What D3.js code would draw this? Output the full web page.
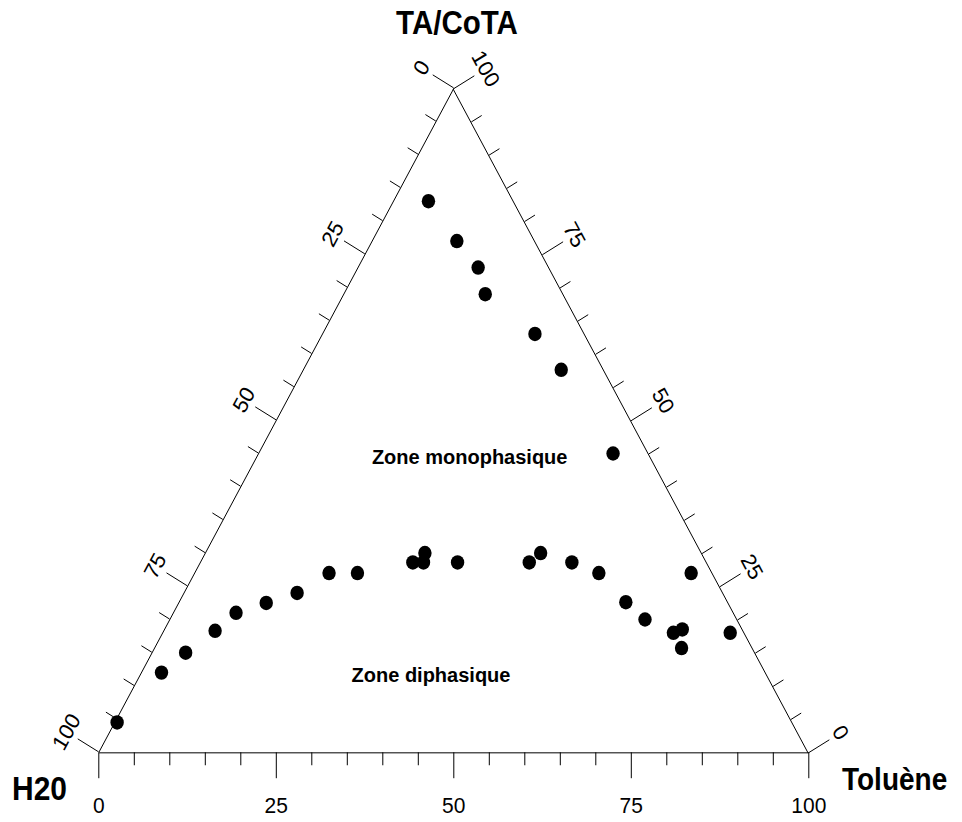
<!DOCTYPE html>
<html>
<head>
<meta charset="utf-8">
<script src="https://cdn.jsdelivr.net/npm/d3@7"></script>
<style>
  html, body { margin: 0; padding: 0; background: #fff; }
  svg { display: block; }
  text { font-family: "Liberation Sans", Arial, Helvetica, sans-serif; fill: #000; }
</style>
</head>
<body>
<svg id="chart" width="962" height="822"></svg>
<script>
// Composition (%) of each measured mixture: toluene, TA/CoTA and water
const toluene = [0.4, 2.9, 4.8, 7.3, 8.9, 12.4, 16, 19, 23, 30, 31.5, 31, 36.3, 46.4, 47.3, 52.4, 57, 63, 67, 72, 73, 74.3, 80, 70, 50, 36.4, 30, 20, 17, 12, 5];
const taCoTA  = [4.5, 12, 15, 18.3, 21, 22.5, 24, 27, 27, 28.6, 28.6, 30, 28.6, 28.6, 30, 28.6, 27, 22.6, 20, 18, 18.5, 15.7, 18, 27, 45, 57.6, 63, 69, 73, 77, 83];
const water   = [95.1, 85.1, 80.2, 74.4, 70.1, 65.1, 60, 54, 50, 41.4, 39.9, 39, 35.1, 25, 22.7, 19, 16, 14.4, 13, 10, 8.5, 10, 2, 3, 5, 6, 7, 11, 10, 11, 12];

// Axis tick values and labels
const majorTicks = [0, 25, 50, 75, 100];
const minorTicks = d3.range(5, 100, 5).filter(v => v % 25 !== 0);

// Vertex and region names
const vertexNames = { water: "H20", toluene: "Toluène", ta: "TA/CoTA" };
const zoneNames = ["Zone monophasique", "Zone diphasique"];

const svg = d3.select("#chart");
svg.append("rect").attr("width", 962).attr("height", 822).attr("fill", "#fff");

// Equilateral triangle, slightly stretched vertically on the page
const side = 710;
const triH = side * Math.sqrt(3) / 2;
const stretch = 664 / triH;
const origin = [98.3, 752.3];

const plot = svg.append("g")
  .attr("transform", `translate(${origin[0]},${origin[1]}) scale(1,${stretch})`);

const edge = d3.scaleLinear().domain([0, 100]).range([0, side]);
const px = (t, c) => edge(t) + edge(c) / 2;
const py = c => -edge(c) * Math.sqrt(3) / 2;

const MAJOR = 24, MINOR = 12;

function drawAxis(g, scale, make, padding) {
  const major = make(scale).tickValues(majorTicks).tickSize(MAJOR).tickSizeOuter(0)
    .tickPadding(padding).tickFormat(d3.format("d"));
  const minor = make(scale).tickValues(minorTicks).tickSize(MINOR).tickSizeOuter(0).tickFormat("");
  const gMinor = g.append("g").call(minor);
  gMinor.select(".domain").remove();
  const gMajor = g.append("g").call(major);
  g.selectAll("line, path")
    .attr("stroke", "#000").attr("stroke-width", 1)
    .attr("vector-effect", "non-scaling-stroke");
  g.selectAll("text")
    .attr("font-size", 21).attr("font-family", "Liberation Sans, Arial, sans-serif")
    .attr("fill", "#000");
  return gMajor;
}

// Bottom edge: toluene, 0 at the water vertex
const bottomScale = d3.scaleLinear().domain([0, 100]).range([0, side]);
drawAxis(plot.append("g"), bottomScale, d3.axisBottom, 17);

// Left edge: water, 100 at the water vertex
const leftScale = d3.scaleLinear().domain([100, 0]).range([0, side]);
drawAxis(plot.append("g").attr("transform", "rotate(-60)"), leftScale, d3.axisTop, 6);

// Right edge: TA/CoTA, 100 at the top vertex
const rightScale = d3.scaleLinear().domain([100, 0]).range([0, side]);
drawAxis(plot.append("g").attr("transform", `translate(${side / 2},${-triH}) rotate(60)`),
  rightScale, d3.axisTop, 6);

// Measured compositions
const points = toluene.map((t, i) => ({ t, c: taCoTA[i], w: water[i] }));
plot.append("g").selectAll("circle")
  .data(points)
  .join("circle")
  .attr("cx", d => px(d.t, d.c))
  .attr("cy", d => py(d.c))
  .attr("r", 6.7)
  .attr("fill", "#000");

// Vertex titles
function title(text, x, y, size, anchor) {
  svg.append("text")
    .attr("transform", `translate(${x},${y}) scale(1,1.12)`)
    .attr("text-anchor", anchor)
    .attr("font-weight", "bold")
    .attr("font-size", size)
    .text(text);
}
title(vertexNames.ta, 457, 34.3, 29.5, "middle");
title(vertexNames.water, 12, 800, 30, "start");
title(vertexNames.toluene, 842, 790, 28, "start");

// Region labels
svg.append("text").attr("x", 469.7).attr("y", 464).attr("text-anchor", "middle")
  .attr("font-weight", "bold").attr("font-size", 20).text(zoneNames[0]);
svg.append("text").attr("x", 431).attr("y", 681.7).attr("text-anchor", "middle")
  .attr("font-weight", "bold").attr("font-size", 20).text(zoneNames[1]);
</script>
</body>
</html>
